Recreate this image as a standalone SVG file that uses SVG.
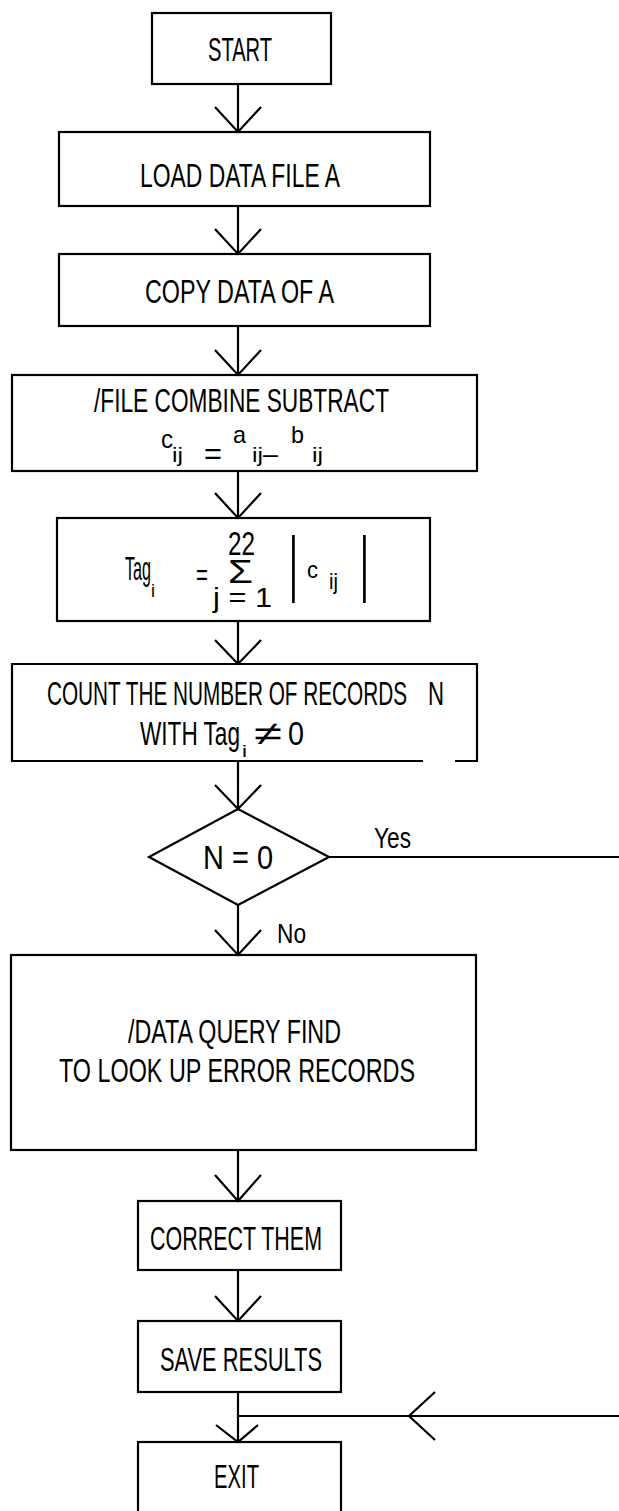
<svg xmlns="http://www.w3.org/2000/svg" width="619" height="1511" viewBox="0 0 619 1511">
<style>
.b{fill:none;stroke:#000;stroke-width:2.2;stroke-linejoin:miter}
.c{fill:none;stroke:#000;stroke-width:2.2}
.t{font-family:"Liberation Sans",Arial,sans-serif;font-size:34px;fill:#000}
.s{font-family:"Liberation Sans",Arial,sans-serif;fill:#000}
</style>
<rect width="619" height="1511" fill="#fff"/>
<g id="connectors">
<path class="c" d="M238,84 V132 M215,107 L238,132 L261,107"/>
<path class="c" d="M238,206 V254 M215,229 L238,254 L261,229"/>
<path class="c" d="M238,326 V375 M215,350 L238,375 L261,350"/>
<path class="c" d="M238,471 V518 M215,493 L238,518 L261,493"/>
<path class="c" d="M238,621 V664 M215,640 L238,664 L261,640"/>
<path class="c" d="M238,761 V809 M215,785 L238,809 L261,785"/>
<path class="c" d="M238,905 V955 M215,930 L238,955 L261,930"/>
<path class="c" d="M238,1150 V1201 M215,1175 L238,1201 L261,1175"/>
<path class="c" d="M238,1270 V1321 M215,1296 L238,1321 L261,1296"/>
<path class="c" d="M238,1392 V1442 M216,1425 L238,1442 L258,1425"/>
<path class="c" d="M329,857 H619"/>
<path class="c" d="M619,1416 H238 M435,1392 L409,1416 L435,1440"/>
<text class="s" x="374" y="848" font-size="29" textLength="37" lengthAdjust="spacingAndGlyphs">Yes</text>
<text class="s" x="277" y="943" font-size="28" textLength="29" lengthAdjust="spacingAndGlyphs">No</text>
</g>
<g id="start">
<rect class="b" x="152" y="13" width="179" height="71"/>
<text class="t" x="208" y="61" textLength="64" lengthAdjust="spacingAndGlyphs">START</text>
</g>
<g id="load">
<rect class="b" x="59" y="132" width="371" height="74"/>
<text class="t" x="140" y="187" textLength="200" lengthAdjust="spacingAndGlyphs">LOAD DATA FILE A</text>
</g>
<g id="copy">
<rect class="b" x="59" y="254" width="371" height="72"/>
<text class="t" x="145" y="303" textLength="189" lengthAdjust="spacingAndGlyphs">COPY DATA OF A</text>
</g>
<g id="subtract">
<rect class="b" x="12" y="375" width="465" height="96"/>
<text class="t" x="94" y="412" textLength="295" lengthAdjust="spacingAndGlyphs">/FILE COMBINE SUBTRACT</text>
<text class="s" x="161" y="448" font-size="26" textLength="12" lengthAdjust="spacingAndGlyphs">c</text>
<text class="s" x="172" y="462" font-size="20" textLength="11" lengthAdjust="spacingAndGlyphs">ij</text>
<text class="s" x="204" y="464" font-size="30" textLength="18" lengthAdjust="spacingAndGlyphs">=</text>
<text class="s" x="233" y="443" font-size="24" textLength="13" lengthAdjust="spacingAndGlyphs">a</text>
<text class="s" x="252" y="462" font-size="20" textLength="11" lengthAdjust="spacingAndGlyphs">ij</text>
<text class="s" x="263" y="463" font-size="28" textLength="15" lengthAdjust="spacingAndGlyphs">–</text>
<text class="s" x="291" y="443" font-size="24" textLength="13" lengthAdjust="spacingAndGlyphs">b</text>
<text class="s" x="312" y="462" font-size="20" textLength="11" lengthAdjust="spacingAndGlyphs">ij</text>
</g>
<g id="tag">
<rect class="b" x="57" y="518" width="373" height="103"/>
<text class="t" x="125" y="580" textLength="26" lengthAdjust="spacingAndGlyphs">Tag</text>
<text class="s" x="151" y="597" font-size="18" textLength="4" lengthAdjust="spacingAndGlyphs">i</text>
<text class="s" x="196" y="585" font-size="30" textLength="12" lengthAdjust="spacingAndGlyphs">=</text>
<text class="t" x="228" y="555" textLength="27" lengthAdjust="spacingAndGlyphs">22</text>
<text class="t" x="228" y="583" textLength="25" lengthAdjust="spacingAndGlyphs">Σ</text>
<text class="s" x="213" y="607" font-size="27" textLength="59" lengthAdjust="spacingAndGlyphs">j = 1</text>
<text class="s" transform="translate(289,588) scale(1,2.1)" font-size="34">|</text>
<text class="s" x="307" y="578" font-size="24" textLength="11" lengthAdjust="spacingAndGlyphs">c</text>
<text class="s" x="329" y="589" font-size="22" textLength="9" lengthAdjust="spacingAndGlyphs">ij</text>
<text class="s" transform="translate(360,588) scale(1,2.1)" font-size="34">|</text>
</g>
<g id="count">
<path class="b" d="M455,761 H477 V664 H12 V761 H423"/>
<text class="t" x="47" y="705" textLength="360" lengthAdjust="spacingAndGlyphs">COUNT THE NUMBER OF RECORDS</text>
<text class="t" x="428" y="705" textLength="16" lengthAdjust="spacingAndGlyphs">N</text>
<text class="t" x="140" y="745" textLength="100" lengthAdjust="spacingAndGlyphs">WITH Tag</text>
<text class="s" x="242" y="757" font-size="16" textLength="5" lengthAdjust="spacingAndGlyphs">i</text>
<text class="s" x="254" y="745" font-size="34" textLength="28" lengthAdjust="spacingAndGlyphs">≠</text>
<text class="t" x="288" y="745" textLength="16" lengthAdjust="spacingAndGlyphs">0</text>
</g>
<g id="decision">
<polygon class="b" points="238,809 329,857 238,905 149,857"/>
<text class="t" x="203" y="869" textLength="70" lengthAdjust="spacingAndGlyphs">N = 0</text>
</g>
<g id="query">
<rect class="b" x="11" y="955" width="465" height="195"/>
<text class="t" x="128" y="1043" textLength="213" lengthAdjust="spacingAndGlyphs">/DATA QUERY FIND</text>
<text class="t" x="59" y="1082" textLength="356" lengthAdjust="spacingAndGlyphs">TO LOOK UP ERROR RECORDS</text>
</g>
<g id="correct">
<rect class="b" x="138" y="1201" width="203" height="69"/>
<text class="t" x="150" y="1250" textLength="172" lengthAdjust="spacingAndGlyphs">CORRECT THEM</text>
</g>
<g id="save">
<rect class="b" x="138" y="1321" width="203" height="71"/>
<text class="t" x="160" y="1371" textLength="162" lengthAdjust="spacingAndGlyphs">SAVE RESULTS</text>
</g>
<g id="exit">
<rect class="b" x="138" y="1442" width="203" height="80"/>
<text class="t" x="214" y="1488" textLength="45" lengthAdjust="spacingAndGlyphs">EXIT</text>
</g>
</svg>
